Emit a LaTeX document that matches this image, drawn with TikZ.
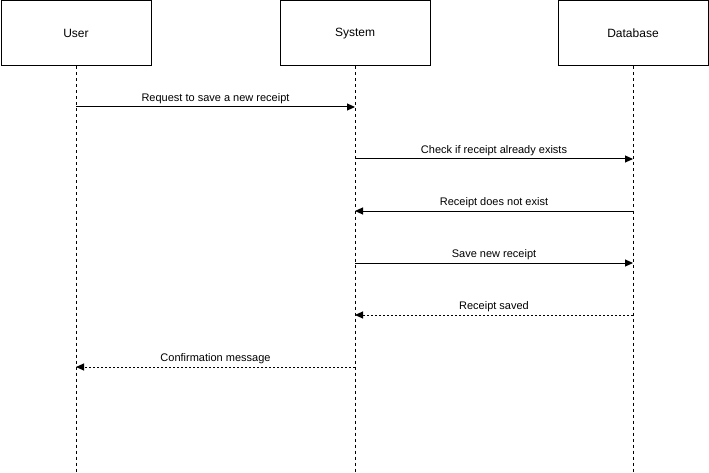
\documentclass[tikz,border=0pt]{standalone}
\usepackage{fontspec}
\setmainfont{Liberation Sans}
\usepackage{tikz}
\usetikzlibrary{positioning,arrows.meta}

\begin{document}
\begin{tikzpicture}[x=1pt,y=-1pt,
    actor/.style={rectangle,draw,line width=1pt,minimum width=150pt,minimum height=65pt,inner sep=0pt,font=\fontsize{12}{14}\selectfont},
    lifeline/.style={line width=1pt,dash pattern=on 3pt off 3pt},
    msg/.style={-{Triangle[length=8pt,width=7pt]},line width=1pt},
    reply/.style={msg,dash pattern=on 2pt off 2pt},
    lbl/.style={above,inner sep=3pt,font=\fontsize{11}{13}\selectfont}]

    \useasboundingbox (0,0) rectangle (709,473);

    \node[actor,anchor=north west] (user) at (0.5,0.5) {User};
    \node[actor,right=128pt of user] (system) {System};
    \node[actor,right=127pt of system] (database) {Database};

    % lifelines
    \coordinate (bottom) at (0,473);
    \foreach \who in {user,system,database}
        \draw[lifeline] (\who.south) -- (\who |- bottom);

    % message rows
    \coordinate (r1) at (0,107);
    \coordinate (r2) at (0,159);
    \coordinate (r3) at (0,211);
    \coordinate (r4) at (0,263);
    \coordinate (r5) at (0,315);
    \coordinate (r6) at (0,367);

    \draw[msg] (user |- r1) -- node[lbl] {Request to save a new receipt} (system |- r1);
    \draw[msg] (system |- r2) -- node[lbl] {Check if receipt already exists} (database |- r2);
    \draw[msg] (database |- r3) -- node[lbl] {Receipt does not exist} (system |- r3);
    \draw[msg] (system |- r4) -- node[lbl] {Save new receipt} (database |- r4);
    \draw[reply] (database |- r5) -- node[lbl] {Receipt saved} (system |- r5);
    \draw[reply] (system |- r6) -- node[lbl] {Confirmation message} (user |- r6);

\end{tikzpicture}
\end{document}
